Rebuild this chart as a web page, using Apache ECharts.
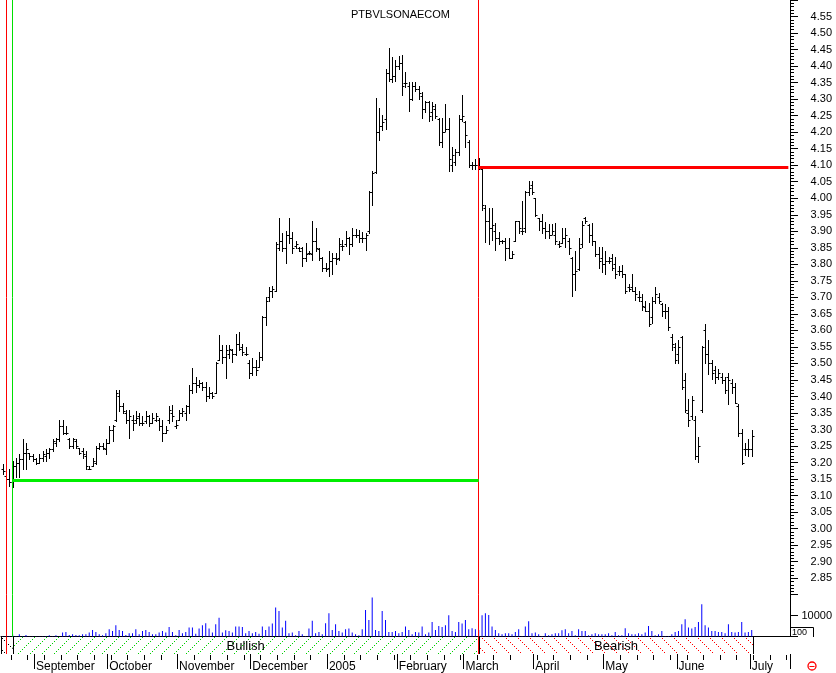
<!DOCTYPE html>
<html><head><meta charset="utf-8">
<script src="https://cdn.jsdelivr.net/npm/echarts@6/dist/echarts.min.js"></script>
<style>html,body{margin:0;padding:0;background:#fff;}#c{width:836px;height:673px;}</style>
</head><body><div id="c"></div>
<script>
// ---------- data ----------
const chartTitle = 'PTBVLSONAECOM';
const firstDay = '2004-08-18';
const dayCount = 237;
const holidays = ['2005-03-25', '2005-03-28'];
const monthLabels = {
  '2004-09': 'September', '2004-10': 'October', '2004-11': 'November', '2004-12': 'December',
  '2005-01': '2005', '2005-02': 'February', '2005-03': 'March', '2005-04': 'April',
  '2005-05': 'May', '2005-06': 'June', '2005-07': 'July'
};
// [open, high, low, close]
const ohlc = [
[3.18,3.195,3.165,3.175],[3.16,3.165,3.13,3.15],[3.15,3.18,3.13,3.14],[3.14,3.205,3.125,3.19],[3.19,3.215,3.155,3.20],
[3.20,3.225,3.155,3.21],[3.21,3.27,3.18,3.23],[3.23,3.26,3.18,3.24],[3.23,3.23,3.21,3.22],[3.22,3.225,3.205,3.21],
[3.21,3.215,3.195,3.20],[3.20,3.225,3.20,3.215],[3.215,3.235,3.205,3.225],[3.22,3.24,3.205,3.23],[3.23,3.245,3.215,3.24],
[3.24,3.27,3.235,3.265],[3.26,3.275,3.25,3.27],[3.27,3.33,3.265,3.31],[3.31,3.33,3.285,3.29],[3.29,3.31,3.285,3.29],
[3.27,3.275,3.245,3.25],[3.25,3.275,3.245,3.27],[3.265,3.27,3.245,3.25],[3.245,3.245,3.225,3.23],[3.235,3.245,3.215,3.225],
[3.22,3.235,3.18,3.19],[3.18,3.19,3.18,3.18],[3.19,3.215,3.19,3.205],[3.20,3.25,3.195,3.245],[3.245,3.26,3.24,3.25],
[3.25,3.26,3.24,3.245],[3.24,3.27,3.225,3.26],[3.26,3.31,3.26,3.30],[3.30,3.315,3.265,3.31],[3.33,3.42,3.325,3.41],
[3.40,3.42,3.355,3.37],[3.37,3.38,3.35,3.355],[3.35,3.36,3.32,3.33],[3.33,3.36,3.275,3.34],[3.33,3.345,3.30,3.32],
[3.33,3.355,3.32,3.335],[3.34,3.35,3.315,3.32],[3.32,3.34,3.315,3.32],[3.325,3.355,3.32,3.34],[3.34,3.345,3.31,3.32],
[3.32,3.35,3.32,3.335],[3.33,3.35,3.325,3.34],[3.33,3.335,3.30,3.31],[3.31,3.33,3.265,3.29],[3.29,3.31,3.29,3.30],
[3.33,3.37,3.32,3.36],[3.35,3.375,3.325,3.34],[3.31,3.33,3.305,3.315],[3.33,3.36,3.33,3.35],[3.35,3.365,3.34,3.355],
[3.35,3.375,3.33,3.37],[3.37,3.435,3.35,3.42],[3.42,3.485,3.41,3.44],[3.44,3.46,3.415,3.435],[3.435,3.45,3.43,3.44],
[3.44,3.445,3.42,3.43],[3.43,3.445,3.385,3.40],[3.40,3.43,3.395,3.41],[3.41,3.415,3.395,3.40],[3.41,3.505,3.41,3.50],
[3.51,3.585,3.51,3.54],[3.54,3.555,3.50,3.52],[3.52,3.555,3.455,3.54],[3.53,3.555,3.515,3.545],[3.54,3.545,3.505,3.53],
[3.53,3.59,3.525,3.56],[3.56,3.595,3.54,3.545],[3.55,3.56,3.525,3.535],[3.53,3.55,3.525,3.53],[3.50,3.51,3.455,3.47],
[3.47,3.515,3.465,3.49],[3.49,3.51,3.465,3.48],[3.49,3.535,3.49,3.52],[3.52,3.645,3.51,3.64],[3.64,3.70,3.615,3.69],
[3.70,3.73,3.69,3.72],[3.72,3.735,3.70,3.725],[3.72,3.869,3.72,3.86],[3.85,3.941,3.844,3.87],[3.87,3.894,3.839,3.85],
[3.85,3.90,3.804,3.89],[3.89,3.941,3.864,3.88],[3.88,3.899,3.834,3.85],[3.855,3.871,3.849,3.86],[3.85,3.851,3.839,3.84],
[3.85,3.851,3.794,3.82],[3.82,3.864,3.809,3.83],[3.835,3.839,3.83,3.835],[3.83,3.931,3.814,3.87],[3.87,3.911,3.839,3.85],
[3.845,3.849,3.814,3.82],[3.82,3.821,3.781,3.79],[3.79,3.804,3.781,3.785],[3.79,3.841,3.764,3.81],[3.81,3.834,3.771,3.82],
[3.82,3.834,3.801,3.815],[3.82,3.881,3.814,3.86],[3.855,3.874,3.844,3.855],[3.86,3.901,3.854,3.88],[3.88,3.884,3.831,3.86],
[3.86,3.909,3.854,3.89],[3.89,3.907,3.884,3.89],[3.89,3.904,3.867,3.88],[3.88,3.899,3.869,3.88],[3.88,3.894,3.844,3.89],
[3.90,4.022,3.894,4.02],[4.02,4.082,3.981,4.075],[4.08,4.303,4.075,4.20],[4.20,4.273,4.176,4.22],[4.22,4.253,4.206,4.23],
[4.24,4.39,4.21,4.38],[4.38,4.454,4.356,4.36],[4.36,4.427,4.353,4.37],[4.37,4.417,4.356,4.40],[4.40,4.43,4.392,4.41],
[4.41,4.434,4.313,4.34],[4.35,4.383,4.336,4.35],[4.34,4.353,4.263,4.30],[4.30,4.353,4.296,4.34],[4.34,4.353,4.326,4.33],
[4.33,4.341,4.301,4.32],[4.31,4.323,4.243,4.27],[4.27,4.293,4.261,4.29],[4.29,4.293,4.233,4.25],[4.26,4.291,4.236,4.28],
[4.27,4.286,4.243,4.25],[4.24,4.243,4.16,4.17],[4.17,4.243,4.155,4.20],[4.20,4.286,4.202,4.21],[4.21,4.243,4.082,4.12],
[4.10,4.155,4.082,4.13],[4.11,4.15,4.102,4.14],[4.14,4.253,4.132,4.24],[4.24,4.313,4.233,4.25],[4.23,4.233,4.155,4.19],
[4.17,4.175,4.095,4.10],[4.10,4.11,4.09,4.10],[4.10,4.12,4.09,4.10],[4.10,4.122,4.088,4.095],[4.09,4.09,3.964,3.98],
[3.97,3.979,3.869,3.93],[3.93,3.969,3.861,3.91],[3.91,3.971,3.874,3.92],[3.90,3.924,3.844,3.88],[3.88,3.899,3.861,3.87],
[3.87,3.874,3.864,3.87],[3.87,3.881,3.814,3.85],[3.85,3.881,3.819,3.82],[3.82,3.841,3.819,3.83],[3.87,3.931,3.87,3.93],
[3.93,3.931,3.894,3.91],[3.90,3.991,3.891,3.90],[3.91,4.022,3.899,4.02],[4.02,4.052,4.01,4.03],[4.04,4.052,4.012,4.02],
[4.00,4.001,3.947,3.95],[3.94,3.941,3.904,3.93],[3.93,3.951,3.894,3.91],[3.91,3.927,3.879,3.90],[3.90,3.921,3.881,3.89],
[3.89,3.921,3.891,3.90],[3.89,3.924,3.861,3.87],[3.86,3.871,3.851,3.855],[3.865,3.911,3.864,3.88],[3.88,3.911,3.851,3.89],
[3.87,3.881,3.831,3.85],[3.82,3.821,3.703,3.77],[3.77,3.841,3.723,3.78],[3.785,3.881,3.783,3.85],[3.86,3.931,3.851,3.92],
[3.94,3.944,3.924,3.93],[3.92,3.921,3.869,3.89],[3.89,3.924,3.859,3.87],[3.87,3.871,3.824,3.83],[3.83,3.851,3.79,3.81],
[3.82,3.851,3.778,3.80],[3.80,3.841,3.771,3.81],[3.81,3.821,3.804,3.81],[3.82,3.831,3.783,3.79],[3.80,3.821,3.76,3.77],
[3.78,3.794,3.768,3.78],[3.78,3.799,3.763,3.77],[3.77,3.771,3.713,3.72],[3.73,3.74,3.72,3.725],[3.73,3.771,3.718,3.72],
[3.72,3.73,3.693,3.71],[3.70,3.72,3.688,3.70],[3.69,3.71,3.663,3.675],[3.67,3.69,3.658,3.66],[3.66,3.683,3.613,3.62],
[3.64,3.70,3.623,3.69],[3.69,3.73,3.683,3.71],[3.70,3.713,3.683,3.69],[3.68,3.683,3.643,3.66],[3.66,3.68,3.638,3.66],
[3.66,3.67,3.60,3.61],[3.58,3.588,3.542,3.56],[3.55,3.562,3.502,3.51],[3.53,3.572,3.502,3.55],[3.58,3.583,3.422,3.43],
[3.45,3.472,3.352,3.36],[3.35,3.392,3.311,3.33],[3.34,3.402,3.331,3.39],[3.33,3.341,3.211,3.22],[3.22,3.278,3.201,3.25],
[3.36,3.552,3.352,3.55],[3.60,3.618,3.502,3.53],[3.53,3.57,3.469,3.50],[3.50,3.509,3.452,3.47],[3.48,3.492,3.442,3.46],
[3.46,3.482,3.452,3.47],[3.46,3.472,3.442,3.45],[3.45,3.459,3.412,3.42],[3.46,3.472,3.377,3.45],[3.44,3.452,3.412,3.43],
[3.43,3.442,3.379,3.38],[3.37,3.377,3.281,3.29],[3.29,3.301,3.196,3.20],[3.24,3.258,3.224,3.24],[3.24,3.271,3.221,3.24],
[3.24,3.298,3.221,3.28]
];
const volume = [
200,200,300,1100,300,1100,300,800,200,200,
200,200,200,300,600,200,600,200,1900,2200,
800,1100,800,600,1100,1100,1900,3200,2200,1100,
600,1600,3500,2700,5400,3200,2700,800,1600,1600,
3500,1100,2700,3200,2200,1100,1100,1900,2700,1900,
4600,2200,600,3200,1600,2200,4300,4300,1400,3800,
5400,6300,3800,1900,5900,9000,1900,3000,2700,1900,
4800,4800,4600,1600,2700,1600,2200,1400,4800,3200,
4800,6200,13800,12200,4300,7500,1600,1900,600,2700,
1100,300,3800,7500,1600,2200,1100,6300,11100,3200,
5900,2700,1900,3500,3800,1900,1100,600,3500,12700,
7900,18600,3200,2700,12200,7900,2200,2200,2700,1600,
2200,4800,3200,1100,2200,1900,4800,1100,1900,7000,
3200,5100,4600,5400,10200,2700,2200,7000,6200,7900,
3500,4000,3500,3200,10200,11100,10300,4800,3200,1600,
1100,1600,1600,1100,2200,3500,300,4800,7300,1600,
1900,1100,300,1600,600,1100,1600,1600,3000,3500,
1600,2700,600,3500,2700,2700,600,1100,1600,1100,
1100,1100,1600,600,2200,600,600,4000,1600,1100,
1100,1600,1100,1900,5100,2700,600,1100,2700,300,
300,1100,2200,2700,5900,8300,4300,3800,4600,7000,
15400,5400,4300,2700,2700,2200,2200,1600,5900,2200,
1900,2200,7000,1900,2200,3200
];
const supportLevel = 3.145, supportFrom = 3, supportTo = 143;
const resistanceLevel = 4.093, resistanceFrom = 143, resistanceTo = 236;
const redMarkers = [1, 143];
const greenMarkers = [3];
const bandStart = [0, 3, 143];
const bandEnd = [3, 143, 225];
const bandLabels = ['', 'Bullish', 'Bearish'];

// ---------- calendar ----------
const dates = [];
(function () {
  const d = new Date(firstDay + 'T00:00:00Z');
  while (dates.length < dayCount) {
    const wd = d.getUTCDay();
    const s = d.toISOString().slice(0, 10);
    if (wd !== 0 && wd !== 6 && holidays.indexOf(s) < 0) dates.push(s);
    d.setUTCDate(d.getUTCDate() + 1);
  }
})();
const isMonthStart = i => i > 0 && dates[i].slice(0, 7) !== dates[i - 1].slice(0, 7);
const isMonday = i => new Date(dates[i] + 'T00:00:00Z').getUTCDay() === 1;

// ---------- styles ----------
const FONT = '"Liberation Sans", Arial, sans-serif';
function hatch(color, rising) {
  const c = document.createElement('canvas');
  c.width = 12; c.height = 12;
  const g = c.getContext('2d');
  g.fillStyle = color;
  for (let k = 0; k < 12; k += 2) g.fillRect(k, rising ? 11 - k : k, 1, 1);
  return c;
}
const bandFills = [hatch('#000000', false), hatch('#00d000', true), hatch('#ff0000', false)];

function renderBar(params, api) {
  const i = api.value(0);
  const o = api.coord([i, api.value(1)]);
  const h = api.coord([i, api.value(2)]);
  const l = api.coord([i, api.value(3)]);
  const c = api.coord([i, api.value(4)]);
  const x = Math.round(h[0]) + 0.5;
  const yo = Math.round(o[1]) + 0.5, yc = Math.round(c[1]) + 0.5;
  const st = { stroke: '#000', lineWidth: 1, fill: null };
  return { type: 'group', children: [
    { type: 'line', shape: { x1: x, y1: Math.round(h[1]), x2: x, y2: Math.round(l[1]) + 1 }, style: st },
    { type: 'line', shape: { x1: x - 2, y1: yo, x2: x, y2: yo }, style: st },
    { type: 'line', shape: { x1: x, y1: yc, x2: x + 2, y2: yc }, style: st }
  ]};
}
function renderBand(params, api) {
  const k = api.value(4);
  const half = api.size([1, 0])[0] / 2;
  let x0 = api.coord([api.value(0), 0])[0];
  let x1 = api.coord([api.value(1), 0])[0];
  if (k === 0) x0 -= half;
  if (k === bandStart.length - 1) x1 += half;
  const yb = api.coord([api.value(0), 0])[1];
  const yt = api.coord([api.value(0), 1])[1];
  const children = [
    { type: 'rect', shape: { x: x0, y: yt, width: x1 - x0, height: yb - yt },
      style: { fill: { image: bandFills[k], repeat: 'repeat' }, stroke: null } },
    { type: 'line', shape: { x1: Math.round(x0) + 0.5, y1: yt, x2: Math.round(x0) + 0.5, y2: yb }, style: { stroke: '#000', lineWidth: 1 } },
    { type: 'line', shape: { x1: Math.round(x1) + 0.5, y1: yt, x2: Math.round(x1) + 0.5, y2: yb }, style: { stroke: '#000', lineWidth: 1 } }
  ];
  if (bandLabels[k]) children.push({ type: 'text', style: {
    text: bandLabels[k], x: (x0 + x1) / 2, y: (yt + yb) / 2 + 1, align: 'center', verticalAlign: 'middle',
    font: '13px ' + FONT, fill: '#000' } });
  return { type: 'group', children };
}
function vLines(idxs, color) {
  return idxs.map(i => ({ xAxis: dates[i], lineStyle: { color, width: 1, type: 'solid' } }));
}

const chart = echarts.init(document.getElementById('c'), null, { renderer: 'canvas' });
chart.setOption({
  animation: false,
  backgroundColor: '#fff',
  title: { text: chartTitle, left: 346, top: 4,
    textStyle: { fontSize: 11, fontWeight: 'normal', color: '#000', fontFamily: FONT } },
  grid: [
    { left: 1, right: 46, top: -2.59, height: 597.3 },
    { left: 1, right: 46, top: 594.6, height: 42 },
    { left: 1, right: 46, top: 637, height: 18 }
  ],
  xAxis: [
    { type: 'category', gridIndex: 0, data: dates, show: false },
    { type: 'category', gridIndex: 1, data: dates, axisLine: { show: true, lineStyle: { color: '#000', width: 1 } },
      axisTick: { show: false }, axisLabel: { show: false } },
    { type: 'category', gridIndex: 2, data: dates, position: 'bottom', offset: 1,
      axisLine: { show: false },
      axisTick: { show: true, interval: i => isMonthStart(i), length: 15, lineStyle: { color: '#000' } },
      axisLabel: { show: true, interval: i => isMonthStart(i), align: 'left', margin: 6,
        formatter: v => monthLabels[v.slice(0, 7)] || '', fontSize: 12, color: '#000', fontFamily: FONT } },
    { type: 'category', gridIndex: 2, data: dates, position: 'bottom', offset: 1,
      axisLine: { show: false }, axisLabel: { show: false },
      axisTick: { show: true, interval: i => isMonday(i), length: 5, lineStyle: { color: '#000' } } }
  ],
  yAxis: [
    { type: 'value', gridIndex: 0, position: 'right', min: 2.80, max: 4.60, interval: 0.05,
      axisLine: { show: true, lineStyle: { color: '#000' } },
      axisTick: { show: true, length: 8, lineStyle: { color: '#000' } },
      minorTick: { show: true, splitNumber: 5, length: 4, lineStyle: { color: '#000' } },
      splitLine: { show: false },
      axisLabel: { margin: 42, align: 'right', fontSize: 11, color: '#000', fontFamily: FONT,
        formatter: v => (v > 4.56 || v < 2.84) ? '' : v.toFixed(2) } },
    { type: 'value', gridIndex: 1, position: 'right', min: 0, max: 20000, interval: 10000,
      axisLine: { show: true, lineStyle: { color: '#000' } },
      axisTick: { show: true, length: 8, lineStyle: { color: '#000' } },
      splitLine: { show: false },
      axisLabel: { margin: 42, align: 'right', fontSize: 11, color: '#000', fontFamily: FONT,
        formatter: v => v === 10000 ? '10000' : '' } },
    { type: 'value', gridIndex: 2, min: 0, max: 1, show: false }
  ],
  series: [
    { type: 'custom', name: 'price', xAxisIndex: 0, yAxisIndex: 0, renderItem: renderBar, clip: false,
      encode: { x: 0, y: [1, 2, 3, 4] },
      data: ohlc.map((r, i) => [i, r[0], r[1], r[2], r[3]]),
      markLine: { silent: true, symbol: 'none', label: { show: false },
        data: [
          ...vLines(redMarkers, '#ff0000'),
          ...vLines(greenMarkers, '#00e000'),
          [{ coord: [dates[supportFrom], supportLevel], lineStyle: { color: '#00ee00', width: 3, type: 'solid' } },
           { coord: [dates[supportTo], supportLevel] }],
          [{ coord: [dates[resistanceFrom], resistanceLevel], lineStyle: { color: '#ff0000', width: 3, type: 'solid' } },
           { coord: [dates[resistanceTo], resistanceLevel] }]
        ] } },
    { type: 'bar', name: 'volume', xAxisIndex: 1, yAxisIndex: 1, data: volume, barWidth: 1,
      itemStyle: { color: '#0000ff' },
      markLine: { silent: true, symbol: 'none', label: { show: false },
        data: [...vLines(redMarkers, '#ff0000'), ...vLines(greenMarkers, '#00e000')] } },
    { type: 'custom', name: 'band', xAxisIndex: 2, yAxisIndex: 2, renderItem: renderBand, clip: false,
      encode: { x: [0, 1], y: [2, 3] },
      data: bandStart.map((s, k) => [s, bandEnd[k], 0, 1, k]),
      z: 1,
      markLine: { silent: true, symbol: 'none', label: { show: false }, z: 5,
        data: vLines(redMarkers, '#ff0000') } }
  ],
  graphic: [
    { type: 'polyline', shape: { points: [[790.5, 627.5], [813.5, 627.5], [813.5, 637]] },
      style: { stroke: '#000', lineWidth: 1, fill: null } },
    { type: 'text', x: 792, y: 628, style: { text: '100', font: '9px ' + FONT, fill: '#000' } },
    { type: 'circle', shape: { cx: 812, cy: 666, r: 4 }, style: { stroke: '#ff0000', lineWidth: 1.3, fill: null } },
    { type: 'line', shape: { x1: 809.5, y1: 666.5, x2: 814.5, y2: 666.5 }, style: { stroke: '#ff0000', lineWidth: 1 } }
  ]
});
</script>
</body></html>
